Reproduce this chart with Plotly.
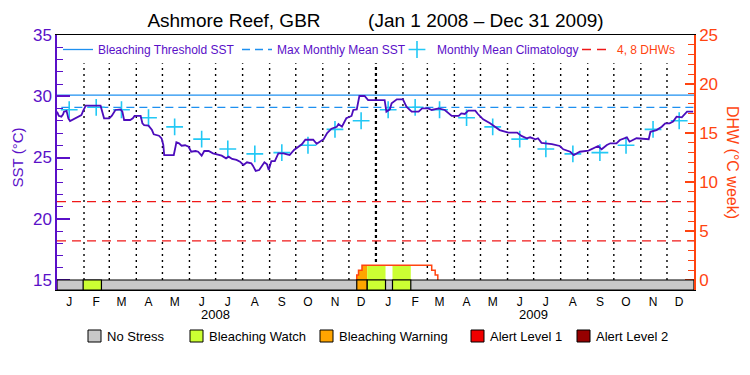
import numpy as np
import pandas as pd
import plotly.graph_objects as go

# ---------------- data ----------------
title_text = ("Ashmore Reef, GBR" + "\u00a0" * 9 + "(Jan 1 2008 \u2013 Dec 31 2009)")
start_date = pd.Timestamp("2008-01-01")

# daily SST, read at change points (day offset from Jan 1 2008, deg C)
sst_days = [0, 2, 5, 7, 8, 11, 12, 13, 15, 18, 21, 25, 28, 30, 33, 50, 52, 54, 60, 63, 67, 73, 75, 77,
            84, 87, 89, 96, 98, 100, 105, 109, 111, 117, 120, 122, 123, 134, 136, 137, 140, 143, 147,
            151, 154, 159, 162, 166, 169, 174, 179, 185, 189, 194, 197, 201, 206, 210, 214, 218, 223,
            225, 228, 232, 235, 238, 241, 243, 246, 250, 254, 260, 264, 267, 272, 277, 281, 285, 294,
            298, 302, 306, 310, 315, 321, 323, 327, 332, 338, 340, 344, 347, 353, 357, 376, 378, 382,
            384, 390, 397, 401, 407, 415, 419, 426, 430, 438, 445, 453, 461, 464, 468, 472, 480, 483,
            489, 497, 503, 508, 518, 528, 533, 539, 543, 549, 552, 556, 568, 577, 581, 589, 593, 600,
            610, 615, 621, 625, 631, 635, 642, 646, 654, 657, 665, 679, 681, 688, 694, 698, 703, 707,
            711, 717, 723, 730]
sst_vals = [28.74, 28.41, 28.33, 28.53, 28.74, 28.80, 28.50, 28.20, 27.98, 28.09, 28.20, 28.30, 28.47,
            28.80, 29.23, 29.23, 28.60, 28.20, 28.20, 28.41, 28.88, 28.93, 28.74, 28.06,
            28.06, 28.20, 28.39, 28.39, 27.79, 27.65, 27.60, 27.24, 26.89, 26.78, 26.56, 26.02, 25.20,
            25.20, 25.88, 26.24, 26.16, 25.96, 26.00,
            25.88, 25.47, 25.53, 25.47, 25.15, 25.53, 25.53, 25.34, 25.26, 25.15, 24.93, 25.07, 24.88,
            24.80, 24.66, 24.39, 24.61, 24.53,
            24.31, 23.90, 23.98, 24.25, 24.61, 24.44, 23.98, 24.71, 24.71, 25.34, 25.34, 25.26, 25.20,
            25.61, 25.88, 26.08, 26.45, 26.45,
            26.12, 26.29, 26.50, 27.00, 27.35, 27.50, 27.73, 27.51, 28.20, 28.39, 28.88, 28.93, 30.02,
            30.02, 29.69, 29.69, 28.74, 28.93,
            29.42, 29.75, 29.75, 29.15, 28.74, 28.74, 29.01, 29.01, 28.88, 29.01, 28.88, 28.39, 28.39,
            28.60, 28.55, 28.82, 28.82, 28.55,
            28.12, 27.79, 27.51, 27.24, 27.03, 27.03, 26.76, 26.57, 26.65, 26.49, 26.57, 26.20, 26.10,
            25.94, 25.67, 25.47, 25.20, 25.47,
            25.56, 25.75, 25.94, 25.67, 26.02, 26.16, 26.16, 26.43, 26.65, 26.29, 26.57, 26.49, 27.10,
            27.24, 27.51, 27.79, 27.79, 27.93,
            28.33, 28.28, 28.74, 28.74]

month_letters = ["J", "F", "M", "A", "M", "J", "J", "A", "S", "O", "N", "D"]
years = [2008, 2009]
clim_vals = [28.9, 29.1, 28.9, 28.25, 27.5, 26.5, 25.7, 25.3, 25.4, 26.0, 27.3, 28.0]

bleaching_threshold = 30.1
max_monthly_mean = 29.1
dhw_levels = [4, 8]

# degree heating weeks (step values, day offsets)
dhw_days = [343, 344, 346, 350, 430, 434, 437]
dhw_vals = [0.0, 0.5, 1.0, 1.5, 1.0, 0.5, 0.0]

# stress level periods (bar at the bottom)
stress_start = ["2008-01-31", "2008-12-10", "2008-12-22", "2009-01-20"]
stress_end = ["2008-02-21", "2008-12-22", "2009-01-12", "2009-02-10"]
stress_level = ["Bleaching Watch", "Bleaching Warning", "Bleaching Watch", "Bleaching Watch"]

stress_names = ["No Stress", "Bleaching Watch", "Bleaching Warning", "Alert Level 1", "Alert Level 2"]
stress_colors = ["#C8C8C8", "#CCFF33", "#FFA500", "#F00000", "#960000"]

# ---------------- style ----------------
PURPLE = "#5A10C8"
LINE_PURPLE = "#4C0CBC"
ORANGE = "#FF4410"
BLUE = "#1E90F0"
CYAN = "#22C8F5"
RED = "#F01818"
FONT = "Liberation Sans"

sst_min, sst_max = 14.1837, 35.0
dhw_min, dhw_max = -1.0204, 25.0

def day_to_date(d):
    return start_date + pd.to_timedelta(np.asarray(d), unit="D")

sst_x = day_to_date(sst_days)
dhw_x = day_to_date(dhw_days)
x_end = pd.Timestamp("2010-01-01")

fig = go.Figure()

# stress-coloured fills under the DHW curve
color_of = dict(zip(stress_names, stress_colors))
dhw_days_arr = np.array(dhw_days)
dhw_vals_arr = np.array(dhw_vals)
for s, e, lev in zip(stress_start, stress_end, stress_level):
    sd = (pd.Timestamp(s) - start_date).days
    ed = (pd.Timestamp(e) - start_date).days
    pts = [sd] + [d for d in dhw_days if sd < d < ed] + [ed]
    vals = []
    for d in pts:
        idx = np.searchsorted(dhw_days_arr, d, side="right") - 1
        vals.append(dhw_vals_arr[idx] if idx >= 0 else 0.0)
    if max(vals) <= 0:
        continue
    fig.add_trace(go.Scatter(x=day_to_date(pts), y=vals, yaxis="y2", mode="lines",
                             line=dict(width=0, shape="hv"), fill="tozeroy",
                             fillcolor=color_of[lev], showlegend=False, hoverinfo="skip"))

# DHW outline
fig.add_trace(go.Scatter(x=dhw_x, y=dhw_vals, yaxis="y2", mode="lines",
                         line=dict(color=ORANGE, width=1.5, shape="hv"),
                         showlegend=False, hoverinfo="skip"))

# reference lines (legend entries)
fig.add_trace(go.Scatter(x=[start_date, x_end], y=[bleaching_threshold] * 2, mode="lines",
                         line=dict(color=BLUE, width=1.3), name="Bleaching Threshold SST",
                         legend="legend"))
fig.add_trace(go.Scatter(x=[start_date + pd.Timedelta(days=5), x_end], y=[max_monthly_mean] * 2,
                         mode="lines", line=dict(color=BLUE, width=1.3, dash="8px,5px"),
                         name="Max Monthly Mean SST", legend="legend2"))

# monthly mean climatology
clim_x = [pd.Timestamp(year=y, month=m + 1, day=15) for y in years for m in range(12)]
clim_y = [clim_vals[m] for y in years for m in range(12)]
fig.add_trace(go.Scatter(x=clim_x, y=clim_y, mode="markers",
                         marker=dict(symbol="cross-thin", size=12, line=dict(color=CYAN, width=1.6)),
                         name="Monthly Mean Climatology", legend="legend3"))

# DHW 4 and 8 lines
for i, lv in enumerate(dhw_levels):
    fig.add_trace(go.Scatter(x=[start_date, x_end], y=[lv, lv], yaxis="y2", mode="lines",
                             line=dict(color=RED, width=1.3, dash="9px,6px"),
                             name="<span style='color:%s'>4, 8 DHWs</span>" % ORANGE,
                             showlegend=(i == 0), legend="legend4"))

# SST line
fig.add_trace(go.Scatter(x=sst_x, y=sst_vals, mode="lines",
                         line=dict(color=LINE_PURPLE, width=1.8), showlegend=False))

shapes = []
# monthly dotted lines
for mb in pd.date_range("2008-02-01", "2009-12-01", freq="MS"):
    heavy = (mb.month == 1)
    shapes.append(dict(type="line", xref="x", yref="y", x0=mb, x1=mb, y0=15, y1=32.7,
                       line=dict(color="black", width=2.2 if heavy else 1.4,
                                 dash="2px,4px" if not heavy else "3px,3px"), layer="below"))
# stress band
shapes.append(dict(type="rect", xref="x", yref="y", x0=start_date, x1=x_end, y0=sst_min, y1=15,
                   fillcolor=stress_colors[0], line=dict(color="black", width=1.2), layer="above"))
for s, e, lev in zip(stress_start, stress_end, stress_level):
    shapes.append(dict(type="rect", xref="x", yref="y", x0=pd.Timestamp(s), x1=pd.Timestamp(e),
                       y0=sst_min, y1=15, fillcolor=color_of[lev],
                       line=dict(color="black", width=1.2), layer="above"))

annotations = []
# year labels
for y in years:
    annotations.append(dict(x=pd.Timestamp(year=y, month=7, day=1), xref="x", y=-0.097, yref="paper",
                            text=str(y), showarrow=False, font=dict(family=FONT, size=13, color="black"),
                            xanchor="center", yanchor="middle"))
# axis titles
annotations.append(dict(x=-0.0628, xref="paper", y=0.52, yref="paper", text="SST (\u00b0C)", textangle=-90,
                        xanchor="center", yanchor="middle",
                        showarrow=False, font=dict(family=FONT, size=15, color=PURPLE)))
annotations.append(dict(x=1.0597, xref="paper", y=0.502, yref="paper", text="DHW (\u00b0C week)",
                        textangle=90, xanchor="center", yanchor="middle",
                        showarrow=False, font=dict(family=FONT, size=16, color=ORANGE)))

# bottom stress legend
legend_x = [88, 190, 320, 471, 577]
for name, col, lx in zip(stress_names, stress_colors, legend_x):
    x0 = (lx - 57) / 637.0
    x1 = (lx + 13 - 57) / 637.0
    shapes.append(dict(type="rect", xref="paper", yref="paper", x0=x0, x1=x1,
                       y0=(290 - 342) / 255.0, y1=(290 - 330) / 255.0, fillcolor=col,
                       line=dict(color="black", width=1)))
    annotations.append(dict(x=(lx + 17 - 57) / 637.0, xref="paper", y=(290 - 336) / 255.0, yref="paper",
                            text=name, showarrow=False, xanchor="left", yanchor="middle",
                            font=dict(family=FONT, size=13, color="black")))

month_ticks = [pd.Timestamp(year=y, month=m + 1, day=15) for y in years for m in range(12)]
month_text = [month_letters[m] for y in years for m in range(12)]

def top_legend(x):
    return dict(orientation="h", x=x, y=1.0, xanchor="left", yanchor="top",
                bgcolor="rgba(0,0,0,0)", font=dict(family=FONT, size=12, color=PURPLE),
                itemwidth=30, tracegroupgap=0)

# the page body adds an 8px offset; the figure is sized so the plot lands on the reference pixels
fig.update_layout(
    width=742, height=367,
    margin=dict(l=49, r=56, t=27, b=85, autoexpand=False),
    paper_bgcolor="white", plot_bgcolor="white",
    title=dict(text=title_text, x=0.5, xref="paper", xanchor="center", y=1 - 12 / 367, yanchor="middle",
               font=dict(family=FONT, size=19, color="black"), automargin=False),
    font=dict(family=FONT),
    showlegend=True,
    legend=top_legend((58 - 57) / 637.0),
    legend2=top_legend((237 - 57) / 637.0),
    legend3=top_legend((397 - 57) / 637.0),
    legend4=top_legend((577 - 57) / 637.0),
    xaxis=dict(range=[start_date, x_end], showgrid=False, zeroline=False, automargin=False,
               showline=True, linecolor="black", linewidth=1.3, mirror=True,
               tickmode="array", tickvals=month_ticks, ticktext=month_text, ticks="",
               tickfont=dict(family=FONT, size=12, color="black")),
    yaxis=dict(range=[sst_min, sst_max], showgrid=False, zeroline=False, automargin=False,
               showline=True, linecolor=PURPLE, linewidth=1.5,
               tickmode="array", tickvals=[15, 20, 25, 30, 35], ticks="inside", ticklen=13,
               tickcolor=PURPLE, tickwidth=1.5,
               minor=dict(dtick=1, tick0=15, ticks="inside", ticklen=6, tickcolor=PURPLE, tickwidth=1.3),
               tickfont=dict(family=FONT, size=17, color=PURPLE)),
    yaxis2=dict(range=[dhw_min, dhw_max], overlaying="y", side="right", showgrid=False, zeroline=False,
                automargin=False,
                showline=True, linecolor=ORANGE, linewidth=1.5,
                tickmode="array", tickvals=[0, 5, 10, 15, 20, 25], ticks="inside", ticklen=9,
                tickcolor=ORANGE, tickwidth=1.5,
                minor=dict(dtick=1, tick0=0, ticks="inside", ticklen=6, tickcolor=ORANGE, tickwidth=1.3),
                tickfont=dict(family=FONT, size=17, color=ORANGE)),
    shapes=shapes,
    annotations=annotations,
)

fig.write_html("out.html")
